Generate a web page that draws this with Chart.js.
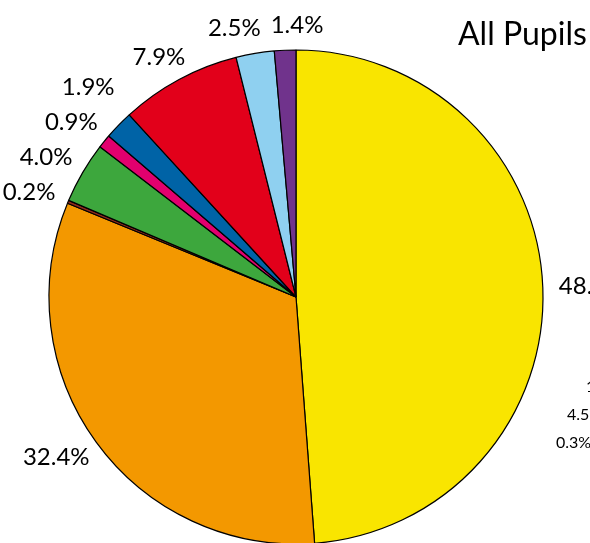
<!DOCTYPE html>
<html>
<head>
<meta charset="utf-8">
<title>All Pupils</title>
<script src="https://cdn.jsdelivr.net/npm/chart.js@4/dist/chart.umd.min.js"></script>
<style>
  html, body { margin: 0; padding: 0; overflow: hidden; background: #fff; }
  #wrap { width: 592px; height: 594px; }
</style>
</head>
<body>
<div id="wrap"><canvas id="All_Pupils_Chart" width="592" height="594"></canvas></div>
<script>
// Slice names (not shown on the picture) and their shares in percent
var Groups = ["Group 1", "Group 2", "Group 3", "Group 4", "Group 5", "Group 6", "Group 7", "Group 8", "Group 9"];
var Pupils = [48.8, 32.4, 0.2, 4.0, 0.9, 1.9, 7.9, 2.5, 1.4];
// Slice colours, same order
var Colours = ["#F9E500", "#F39800", "#8E2A1C", "#3DA73D", "#E2006E", "#0063A6", "#E2001A", "#8FD0F0", "#70338C"];
// Labels of the neighbouring chart that peek in at the right edge
var Side_Labels = ["1", "4.5%", "0.3%"];

var labelFont = "24px Lato, 'Open Sans', sans-serif";

// draws the percentage next to each slice, outside the pie
var pieLabels = {
  id: "pieLabels",
  afterDatasetsDraw: function (chart) {
    var ctx = chart.ctx;
    var meta = chart.getDatasetMeta(0);
    var items = [];
    var cy = 0;
    ctx.save();
    ctx.font = labelFont;
    meta.data.forEach(function (arc, i) {
      var p = arc.getProps(["x", "y", "startAngle", "endAngle", "outerRadius"], true);
      var a = (p.startAngle + p.endAngle) / 2;
      var dx = Math.cos(a), dy = Math.sin(a);
      var text = Pupils[i].toFixed(1) + "%";
      var w = ctx.measureText(text).width;
      var r = p.outerRadius + 16;
      cy = p.y;
      items.push({ text: text, w: w, dy: dy, x: p.x + r * dx + dx * w / 2, y: p.y + r * dy + dy * 9 });
    });

    // labels over the top of the pie: spread sideways
    var top = items.filter(function (it) { return it.y < cy && Math.abs(it.dy) > 0.8; })
                   .sort(function (a, b) { return a.x - b.x; });
    for (var t = 1; t < top.length; t++) {
      var need = (top[t].w + top[t - 1].w) / 2 + 10;
      var gap = top[t].x - top[t - 1].x;
      if (gap < need) {
        top[t - 1].x -= (need - gap) / 2;
        top[t].x += (need - gap) / 2;
      }
    }
    // labels on the upper left side: stack upward
    var side = items.filter(function (it) { return it.y < cy && Math.abs(it.dy) <= 0.8; })
                    .sort(function (a, b) { return b.y - a.y; });
    for (var k = 1; k < side.length; k++) {
      for (var j = 0; j < k; j++) {
        var overlapX = Math.abs(side[k].x - side[j].x) < (side[k].w + side[j].w) / 2;
        if (overlapX && side[j].y - side[k].y < 35) side[k].y = side[j].y - 35;
      }
    }

    ctx.fillStyle = "#000";
    ctx.textAlign = "center";
    ctx.textBaseline = "middle";
    items.forEach(function (it) { ctx.fillText(it.text, it.x, it.y); });

    // title and the cut-off labels of the next chart
    ctx.textAlign = "left";
    ctx.textBaseline = "alphabetic";
    ctx.font = "32px Lato, 'Open Sans', sans-serif";
    ctx.fillText("All Pupils", 458, 45);
    ctx.font = "16px Lato, 'Open Sans', sans-serif";
    ctx.textBaseline = "middle";
    ctx.fillText(Side_Labels[0], 586, 387);
    ctx.fillText(Side_Labels[1], 567, 415);
    ctx.fillText(Side_Labels[2], 556, 443);
    ctx.restore();
  }
};

var ctx1 = document.getElementById("All_Pupils_Chart");
var PupilsChart = new Chart(ctx1, {
  type: "pie",
  data: {
    labels: Groups,
    datasets: [
      {
        data: Pupils,
        backgroundColor: Colours,
        borderColor: "#000",
        borderWidth: 1.2
      }
    ]
  },
  options: {
    responsive: false,
    animation: false,
    radius: 247,
    layout: { padding: 0 },
    plugins: {
      legend: { display: false },
      tooltip: { enabled: false }
    }
  },
  plugins: [pieLabels]
});
</script>
</body>
</html>
